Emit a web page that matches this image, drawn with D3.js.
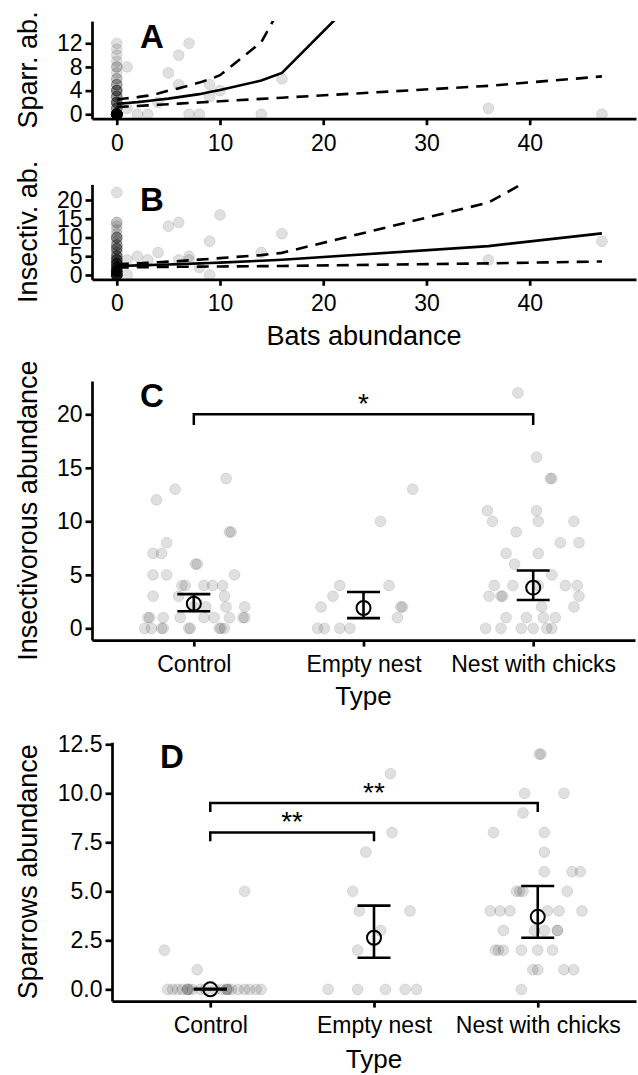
<!DOCTYPE html>
<html>
<head>
<meta charset="utf-8">
<script src="https://cdn.jsdelivr.net/npm/d3@7"></script>
<style>
  body { margin: 0; background: #fff; }
  text { font-family: "Liberation Sans", Arial, Helvetica, sans-serif; }
</style>
</head>
<body>
<script>
// ---------- data ----------
// sites with bats (panels A and B)
var batsObs   = [1, 1, 2, 3, 4, 5, 6, 6, 7, 7, 8, 9, 9, 10, 14, 16, 36, 47];
var sparrObs  = [8, 1, 0, 0, 2, 7, 10, 5, 12, 0, 0, 5, 3, 4, 0, 6, 1, 0];
var insectObs = [4, 0, 5, 4, 6, 13, 14, 4, 5, 4, 2, 9, 0, 16, 6, 11, 4, 9];
// sites with no bats
var sparrNoBats = [12, 11, 10, 9, 8, 8, 7, 6, 6, 5, 5, 5, 4, 4, 4, 4, 4, 3, 3, 3, 3, 2, 2, 2, 2, 2, 2, 1, 1, 1, 1,
  0, 0, 0, 0, 0, 0, 0, 0, 0, 0, 0, 0, 0, 0, 0, 0, 0, 0, 0, 0, 0, 0, 0, 0, 0, 0, 0, 0, 0, 0, 0, 0, 0, 0, 0, 0, 0, 0, 0, 0, 0, 0];
var insectNoBats = [22, 14, 14, 13, 12, 11, 10, 10, 10, 10, 9, 8, 8, 8, 7, 7, 7, 7, 6, 6, 5, 5, 5, 5, 4, 4, 4, 4, 4, 4,
  3, 3, 3, 3, 3, 3, 3, 2, 2, 2, 2, 2, 2, 2, 1, 1, 1, 1, 1, 1, 1, 1, 1, 1, 1, 1, 1,
  0, 0, 0, 0, 0, 0, 0, 0, 0, 0, 0, 0, 0, 0, 0, 0];

// fitted model and confidence band (A, B)
var fitBats     = [0, 1, 2, 3, 4, 5, 6, 7, 8, 9, 10, 14, 16, 36, 47];
var sparrFit    = [1.75, 1.9, 2.05, 2.25, 2.45, 2.65, 2.9, 3.15, 3.4, 3.75, 4.1, 5.7, 7.0, 42, 120];
var sparrUpper  = [2.5, 2.7, 2.9, 3.15, 3.5, 4.0, 4.4, 4.85, 5.35, 5.9, 6.6, 12.2, 18.5, null, null];
var sparrLower  = [1.2, 1.3, 1.4, 1.5, 1.6, 1.7, 1.8, 1.9, 2.0, 2.1, 2.2, 2.6, 2.8, 4.8, 6.4];
var insectFit   = [2.4, 2.48, 2.56, 2.64, 2.72, 2.8, 2.9, 3.0, 3.1, 3.2, 3.3, 3.8, 4.05, 7.7, 11.1];
var insectUpper = [2.9, 3.0, 3.1, 3.25, 3.4, 3.55, 3.7, 3.9, 4.1, 4.3, 4.5, 5.3, 5.9, 19.3, 36];
var insectLower = [2.0, 2.03, 2.06, 2.09, 2.12, 2.15, 2.18, 2.2, 2.22, 2.25, 2.27, 2.35, 2.4, 3.1, 3.6];

// panels C and D
var typeLabels = ["Control", "Empty nest", "Nest with chicks"];

var insectControl    = [14, 13, 12, 9, 9, 8, 7, 7, 6, 6, 5, 5, 5, 4, 4, 4, 4, 4, 3, 3, 3, 2, 2, 2, 2, 1, 1, 1, 1, 1, 1, 1, 1, 1, 0, 0, 0, 0, 0, 0, 0, 0, 0];
var insectControlJit = [0.19, -0.11, -0.22, 0.21, 0.22, -0.16, -0.24, -0.19, 0.01, 0.02, -0.24, -0.16, 0.24, -0.07, -0.05, 0.06, 0.11, 0.17,
  -0.24, -0.09, 0.18, 0.0, 0.07, 0.19, 0.30, -0.27, -0.26, -0.18, -0.08, 0.06, 0.12, 0.21, 0.29, 0.30,
  -0.29, -0.25, -0.19, -0.18, -0.03, -0.02, 0.15, 0.16, 0.18];
var insectEmpty    = [13, 10, 4, 4, 3, 2, 2, 2, 1, 0, 0, 0, 0];
var insectEmptyJit = [0.29, 0.10, -0.14, 0.15, -0.18, -0.25, 0.22, 0.23, 0.20, -0.27, -0.23, -0.14, -0.08];
var insectNest    = [22, 16, 14, 14, 11, 11, 10, 10, 10, 9, 8, 8, 7, 7, 6, 5, 4, 4, 4, 4, 4, 3, 3, 3, 3, 2, 2, 1, 1, 1, 1, 0, 0, 0, 0, 0, 0];
var insectNestJit = [-0.09, 0.02, 0.10, 0.11, -0.27, 0.02, -0.24, 0.03, 0.24, -0.10, 0.16, 0.27, -0.16, 0.03, -0.11, 0.11,
  -0.23, -0.12, 0.03, 0.19, 0.26, -0.26, -0.19, -0.18, 0.27, 0.05, 0.24, -0.16, -0.04, 0.06, 0.13,
  -0.28, -0.19, -0.07, 0.0, 0.08, 0.11];

var sparrControl    = [5, 2, 1, 0, 0, 0, 0, 0, 0, 0, 0, 0, 0, 0, 0, 0, 0, 0, 0, 0, 0, 0, 0, 0];
var sparrControlJit = [0.21, -0.28, -0.08, -0.26, -0.23, -0.20, -0.17, -0.14, -0.14, -0.13, -0.11, -0.06, -0.03,
  0.03, 0.07, 0.10, 0.10, 0.11, 0.13, 0.17, 0.21, 0.24, 0.28, 0.31];
var sparrEmpty    = [11, 8, 7, 5, 4, 4, 3, 2, 0, 0, 0, 0, 0];
var sparrEmptyJit = [0.10, 0.11, -0.05, -0.13, -0.09, 0.22, 0.04, -0.10, -0.28, -0.10, 0.07, 0.19, 0.26];
var sparrNest    = [12, 12, 10, 10, 9, 8, 8, 7, 6, 6, 6, 5, 5, 5, 5, 4, 4, 4, 4, 4, 4, 3, 3, 3, 3, 3, 2, 2, 2, 2, 2, 2, 1, 1, 1, 1, 0];
var sparrNestJit = [0.01, 0.02, -0.08, 0.16, -0.09, -0.27, 0.04, 0.04, 0.04, 0.21, 0.26, -0.13, -0.11, -0.09, 0.18,
  -0.29, -0.23, -0.17, 0.06, 0.13, 0.27, -0.21, -0.02, 0.04, 0.12, 0.12, -0.26, -0.24, -0.21, -0.10, 0.0, 0.09,
  -0.03, 0.0, 0.16, 0.22, -0.10];

// model means and intervals per type
var insectMean = [2.3, 1.9, 3.8];
var insectLow  = [1.6, 0.95, 2.65];
var insectHigh = [3.2, 3.4, 5.4];
var sparrMean  = [0, 2.63, 3.7];
var sparrLow   = [0, 1.61, 2.63];
var sparrHigh  = [0.03, 4.27, 5.27];

// significance brackets: [from, to, height, tip, label]
var insectSig = [["Control", "Nest with chicks", 20, 19, "*"]];
var sparrSig  = [["Control", "Empty nest", 8.0, 7.55, "**"], ["Control", "Nest with chicks", 9.5, 9.05, "**"]];

// ---------- drawing ----------
var svg = d3.select("body").append("svg")
    .attr("width", 638)
    .attr("height", 1075);

var tickFont = "23px", titleFont = "27px";

function styleAxis(g) {
  g.select(".domain").attr("stroke", "#000").attr("stroke-width", 2.7);
  g.selectAll(".tick line").attr("stroke", "#000").attr("stroke-width", 2.7);
  g.selectAll(".tick text").attr("fill", "#000").style("font-size", tickFont);
}

function addClip(id, box) {
  svg.append("clipPath").attr("id", id)
    .append("rect")
    .attr("x", box.left).attr("y", box.top)
    .attr("width", box.right - box.left).attr("height", box.bottom - box.top);
}

function drawPoints(g, pts, x, y) {
  g.selectAll("circle.pt")
    .data(pts)
    .enter().append("circle")
    .attr("class", "pt")
    .attr("cx", function(d) { return x(d[0]); })
    .attr("cy", function(d) { return y(d[1]); })
    .attr("r", 5.4)
    .attr("fill", "#000").attr("fill-opacity", 0.12)
    .attr("stroke", "#000").attr("stroke-opacity", 0.1).attr("stroke-width", 1);
}

function yTitle(label, box) {
  svg.append("text")
    .attr("transform", "translate(37," + ((box.top + box.bottom) / 2) + ") rotate(-90)")
    .attr("text-anchor", "middle")
    .style("font-size", titleFont)
    .text(label);
}

function panelLetter(letter, box, baseline) {
  svg.append("text")
    .attr("x", box.left + 48)
    .attr("y", baseline)
    .style("font-size", "33px")
    .style("font-weight", "bold")
    .text(letter);
}

// ---- panels A and B: abundance vs bats ----
function scatterPanel(id, box, yDomain, yTicks, ptsY, obsY, fit, upper, lower, letter, title) {
  var x = d3.scaleLinear().domain([-2.4, 50.3]).range([box.left, box.right]);
  var y = d3.scaleLinear().domain(yDomain).range([box.bottom, box.top]);
  addClip(id, box);
  var g = svg.append("g").attr("clip-path", "url(#" + id + ")");

  var pts = ptsY.map(function(v) { return [0, v]; })
    .concat(batsObs.map(function(b, i) { return [b, obsY[i]]; }));
  drawPoints(g, pts, x, y);

  var line = d3.line()
    .defined(function(d) { return d[1] != null; })
    .x(function(d) { return x(d[0]); })
    .y(function(d) { return y(d[1]); });
  var series = [[fit, null], [upper, "12,8"], [lower, "12,8"]];
  series.forEach(function(s) {
    g.append("path")
      .datum(fitBats.map(function(b, i) { return [b, s[0][i]]; }))
      .attr("d", line)
      .attr("fill", "none")
      .attr("stroke", "#000")
      .attr("stroke-width", 2.6)
      .attr("stroke-dasharray", s[1]);
  });

  svg.append("g")
    .attr("transform", "translate(0," + box.bottom + ")")
    .call(d3.axisBottom(x).tickValues([0, 10, 20, 30, 40]).tickSize(6.5).tickSizeOuter(0).tickPadding(9))
    .call(styleAxis);
  svg.append("g")
    .attr("transform", "translate(" + box.left + ",0)")
    .call(d3.axisLeft(y).tickValues(yTicks).tickSize(6.5).tickSizeOuter(0).tickPadding(3))
    .call(styleAxis);

  yTitle(title, box);
  panelLetter(letter, box, box.top + 27);
}

var boxA = {left: 92, right: 636, top: 21.1, bottom: 118.7};
var boxB = {left: 92, right: 636, top: 184.4, bottom: 279.3};
scatterPanel("clipA", boxA, [-0.75, 15.75], [0, 4, 8, 12], sparrNoBats, sparrObs,
  sparrFit, sparrUpper, sparrLower, "A", "Sparr. ab.");
scatterPanel("clipB", boxB, [-1.15, 24.15], [0, 5, 10, 15, 20], insectNoBats, insectObs,
  insectFit, insectUpper, insectLower, "B", "Insectiv. ab.");

svg.append("text")
  .attr("x", (boxB.left + boxB.right) / 2)
  .attr("y", 345)
  .attr("text-anchor", "middle")
  .style("font-size", titleFont)
  .text("Bats abundance");

// ---- panels C and D: abundance by type ----
function typePanel(id, box, yDomain, yTicks, fmt, groups, mean, low, high, sig, letter, title, titleY) {
  var xc = d3.scaleLinear().domain([0.4, 3.6]).range([box.left, box.right]);
  var xp = d3.scalePoint().domain(typeLabels).range([box.left, box.right]).padding(0.6);
  var y = d3.scaleLinear().domain(yDomain).range([box.bottom, box.top]);
  addClip(id, box);
  var g = svg.append("g").attr("clip-path", "url(#" + id + ")");

  var pts = [];
  groups.forEach(function(grp, k) {
    grp[0].forEach(function(v, i) { pts.push([k + 1 + grp[1][i], v]); });
  });
  drawPoints(g, pts, xc, y);

  // error bars
  var eb = svg.append("g");
  typeLabels.forEach(function(t, k) {
    var cx = xp(t);
    eb.append("line")
      .attr("x1", cx).attr("x2", cx)
      .attr("y1", y(low[k])).attr("y2", y(high[k]))
      .attr("stroke", "#000").attr("stroke-width", 2.6);
    [low[k], high[k]].forEach(function(v) {
      eb.append("line")
        .attr("x1", cx - 16.5).attr("x2", cx + 16.5)
        .attr("y1", y(v)).attr("y2", y(v))
        .attr("stroke", "#000").attr("stroke-width", 2.6);
    });
    eb.append("circle")
      .attr("cx", cx).attr("cy", y(mean[k]))
      .attr("r", 7)
      .attr("fill", "none")
      .attr("stroke", "#000").attr("stroke-width", 2);
  });

  // significance brackets
  sig.forEach(function(s) {
    var x1 = xp(s[0]), x2 = xp(s[1]);
    svg.append("path")
      .attr("d", "M" + x1 + "," + y(s[3]) + "V" + y(s[2]) + "H" + x2 + "V" + y(s[3]))
      .attr("fill", "none")
      .attr("stroke", "#000").attr("stroke-width", 2.5);
    svg.append("text")
      .attr("x", (x1 + x2) / 2)
      .attr("y", y(s[2]) - 1)
      .attr("text-anchor", "middle")
      .style("font-size", "28px")
      .text(s[4]);
  });

  svg.append("g")
    .attr("transform", "translate(0," + box.bottom + ")")
    .call(d3.axisBottom(xp).tickSize(6.5).tickSizeOuter(0).tickPadding(9))
    .call(styleAxis);
  svg.append("g")
    .attr("transform", "translate(" + box.left + ",0)")
    .call(d3.axisLeft(y).tickValues(yTicks).tickFormat(d3.format(fmt)).tickSize(6.5).tickSizeOuter(0).tickPadding(3))
    .call(styleAxis);

  yTitle(title, box);
  panelLetter(letter, box, box.top + 26);

  svg.append("text")
    .attr("x", (box.left + box.right) / 2)
    .attr("y", titleY)
    .attr("text-anchor", "middle")
    .style("font-size", "26px")
    .text("Type");
}

var boxC = {left: 92, right: 635, top: 381.1, bottom: 640.1};
var boxD = {left: 112, right: 636, top: 742.3, bottom: 1001.1};
typePanel("clipC", boxC, [-1.1, 23.1], [0, 5, 10, 15, 20], "d",
  [[insectControl, insectControlJit], [insectEmpty, insectEmptyJit], [insectNest, insectNestJit]],
  insectMean, insectLow, insectHigh, insectSig, "C", "Insectivorous abundance", 705);
typePanel("clipD", boxD, [-0.6, 12.6], [0, 2.5, 5, 7.5, 10, 12.5], ".1f",
  [[sparrControl, sparrControlJit], [sparrEmpty, sparrEmptyJit], [sparrNest, sparrNestJit]],
  sparrMean, sparrLow, sparrHigh, sparrSig, "D", "Sparrows abundance", 1068);
</script>
</body>
</html>
